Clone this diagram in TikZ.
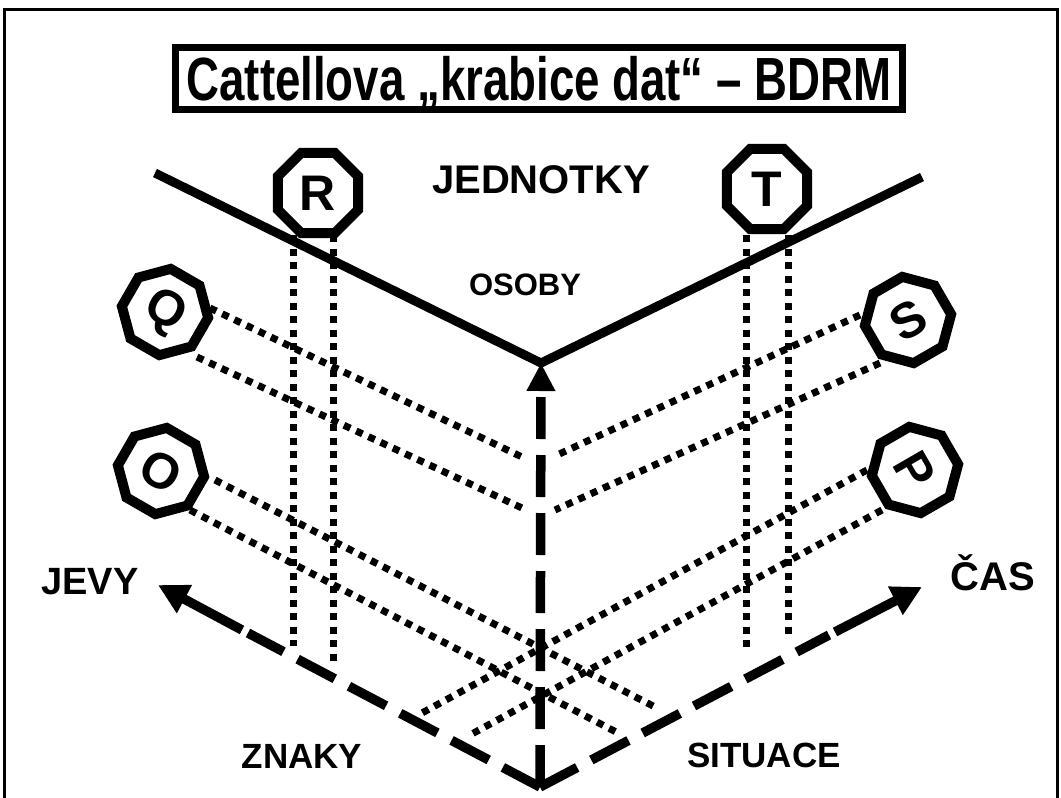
\documentclass[tikz,border=0pt]{standalone}
\usepackage{fontspec}
\setmainfont{Liberation Sans}
\usetikzlibrary{shapes.geometric,arrows.meta}
\begin{document}
\begin{tikzpicture}[x=1pt,y=-1pt,
  oct/.style={draw, line width=10pt, regular polygon, regular polygon sides=8,
    minimum size=87pt, inner sep=0pt, fill=white, font=\fontsize{50}{50}\selectfont\bfseries},
  solidline/.style={line width=9pt, line join=miter},
  dashline/.style={line width=9.5pt, dash pattern=on 42pt off 16pt},
  dotline/.style={line width=7pt, dash pattern=on 7pt off 6.5pt},
  lbl/.style={anchor=base, inner sep=0pt, font=\fontsize{#1}{#1}\selectfont\bfseries},
  tipline/.style={line width=9.5pt, -{Triangle[length=30pt,width=30pt]}},
  titlebox/.style={draw, line width=7.5pt, minimum width=727pt, minimum height=62pt,
    inner sep=0pt, text depth=0pt, font=\fontsize{61}{61}\selectfont\bfseries}]
\useasboundingbox (0,0) rectangle (1061,798);
% outer frame
\draw[line width=3pt] (4,800) -- (4,9) -- (1057,9) -- (1057,800);
% title
\node[titlebox] (title) at (539,78.5) {\scalebox{0.748}[1]{Cattellova „krabice dat“ – BDRM}};
% key points
\coordinate (V) at (540,787);
\coordinate (top) at (541,363);
\coordinate (Lend) at (155,173);
\coordinate (Rend) at (922,177);
\coordinate (jevytip) at (158,585);
\coordinate (jevyA) at (248,633);
\coordinate (jevyB) at (242,630);
\coordinate (castip) at (922,587);
\coordinate (casA) at (829,635);
\coordinate (casB) at (835,632);
% dotted lines
\coordinate (R1a) at (293,235); \coordinate (R1b) at (293,646);
\coordinate (R2a) at (333,235); \coordinate (R2b) at (333,662);
\coordinate (T1a) at (746,235); \coordinate (T1b) at (746,653);
\coordinate (T2a) at (788,235); \coordinate (T2b) at (788,635);
\coordinate (Q1a) at (210,308); \coordinate (Q1b) at (522,457);
\coordinate (Q2a) at (197,357); \coordinate (Q2b) at (522,508);
\coordinate (S1a) at (860,315); \coordinate (S1b) at (555,456);
\coordinate (S2a) at (880,363); \coordinate (S2b) at (555,510);
\coordinate (O1a) at (215,480); \coordinate (O1b) at (655,707);
\coordinate (O2a) at (190,510); \coordinate (O2b) at (618,733);
\coordinate (P1a) at (867,470); \coordinate (P1b) at (422,713);
\coordinate (P2a) at (882,510); \coordinate (P2b) at (470,735);
\foreach \a/\b in {R1a/R1b,R2a/R2b,T1a/T1b,T2a/T2b,Q1a/Q1b,Q2a/Q2b,S1a/S1b,S2a/S2b,O1a/O1b,O2a/O2b,P1a/P1b,P2a/P2b}
  \draw[dotline] (\a) -- (\b);
% solid V
\draw[solidline] (Lend) -- (top) -- (Rend);
% dashed axes
\draw[dashline, -{Triangle[length=28pt,width=27pt]}] (V) -- (top);
\draw[dashline] (V) -- (jevyA);
\draw[tipline] (jevyB) -- (jevytip);
\draw[dashline] (V) -- (casA);
\draw[tipline] (casB) -- (castip);
% octagons
\node[oct] (R) at (318,193) {R};
\node[oct] (T) at (767,189) {T};
\node[oct, rotate=-30] (Q) at (165,312) {Q};
\node[oct, rotate=-30] (O) at (161,471) {O};
\node[oct, rotate=30] (S) at (908,320) {S};
\node[oct, rotate=-60] (P) at (915,470) {P};
% labels
\node[lbl=40] (jedn) at (541,193) {JEDNOTKY};
\node[lbl=31] (osoby) at (525,295) {OSOBY};
\node[lbl=38] (jevy) at (90,594) {JEVY};
\node[lbl=40] (cas) at (993,590) {ČAS};
\node[lbl=35] (znaky) at (302,768) {ZNAKY};
\node[lbl=35] (situace) at (764,767) {SITUACE};
\end{tikzpicture}
\end{document}
